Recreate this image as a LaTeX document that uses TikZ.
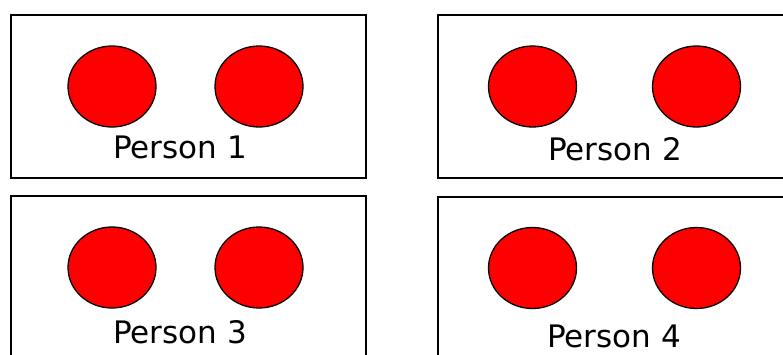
\documentclass[tikz,border=0pt]{standalone}
\usepackage{fontspec}
\setmainfont{DejaVu Sans}
\usepackage{tikz}
\usetikzlibrary{shapes.geometric}

\begin{document}
\begin{tikzpicture}[
    x=1pt, y=-1pt,
    panel/.style={draw, line width=2pt, minimum width=355pt, minimum height=163pt,
                  inner sep=0pt, anchor=north west},
    dot/.style={draw, ellipse, fill=red, line width=1.3pt, minimum width=88pt,
                minimum height=81pt, inner sep=0pt},
    who/.style={anchor=base, inner sep=0pt, font=\fontsize{31}{36}\selectfont}
]
\useasboundingbox (0,0) rectangle (783,354);

% top row
\node[panel] (p1) at (10,14) {};
\node[dot] (p1l) at (112,86.5) {};
\node[dot] (p1r) at (259,86.5) {};
\node[who] (p1t) at (180,158) {Person 1};

\node[panel] (p2) at (437,14) {};
\node[dot] (p2l) at (532.5,86.5) {};
\node[dot] (p2r) at (696.5,86.5) {};
\node[who] (p2t) at (615,160) {Person 2};

% bottom row
\node[panel] (p3) at (10,195) {};
\node[dot] (p3l) at (112,267.5) {};
\node[dot] (p3r) at (259,267.5) {};
\node[who] (p3t) at (180,343) {Person 3};

\node[panel] (p4) at (437,196) {};
\node[dot] (p4l) at (532.5,268) {};
\node[dot] (p4r) at (696.5,268) {};
\node[who] (p4t) at (614,347) {Person 4};

\end{tikzpicture}
\end{document}
